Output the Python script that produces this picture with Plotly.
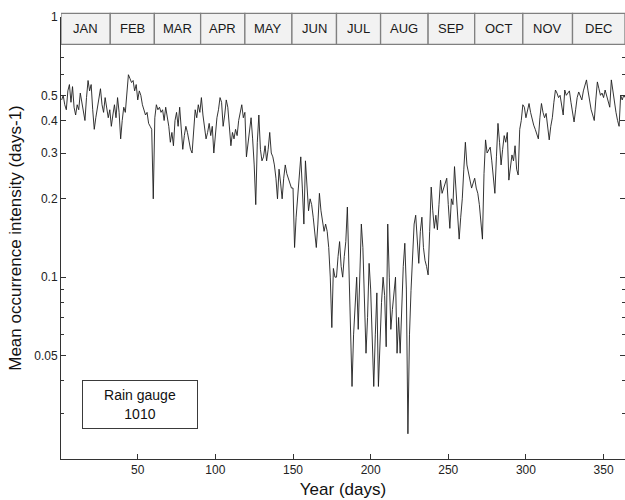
import plotly.graph_objects as go

# Mean daily occurrence intensity (days-1), day 1 .. 365
jan = [0.48, 0.50, 0.46, 0.44, 0.52, 0.55, 0.47, 0.54, 0.45, 0.42, 0.46, 0.44, 0.51, 0.47, 0.43, 0.40,
       0.49, 0.57, 0.52, 0.55, 0.44, 0.37, 0.41, 0.45, 0.48, 0.53, 0.46, 0.43, 0.49, 0.44, 0.41]
feb = [0.44, 0.38, 0.42, 0.46, 0.41, 0.49, 0.43, 0.34, 0.40, 0.45, 0.43, 0.52, 0.60, 0.58, 0.56, 0.57,
       0.52, 0.55, 0.48, 0.52, 0.50, 0.46, 0.44, 0.42, 0.43, 0.39, 0.38, 0.37, 0.20]
mar = [0.41, 0.46, 0.44, 0.45, 0.43, 0.44, 0.40, 0.45, 0.42, 0.38, 0.33, 0.36, 0.32, 0.40, 0.43, 0.38,
       0.45, 0.36, 0.31, 0.35, 0.38, 0.36, 0.33, 0.31, 0.30, 0.38, 0.44, 0.41, 0.46, 0.43]
apr = [0.49, 0.42, 0.38, 0.34, 0.36, 0.39, 0.35, 0.38, 0.30, 0.36, 0.41, 0.44, 0.49, 0.47, 0.38, 0.42,
       0.48, 0.45, 0.37, 0.32, 0.36, 0.34, 0.37, 0.35, 0.40, 0.43, 0.46, 0.41, 0.43, 0.29]
may = [0.33, 0.36, 0.41, 0.34, 0.27, 0.19, 0.33, 0.42, 0.31, 0.28, 0.29, 0.32, 0.28, 0.31, 0.36, 0.30,
       0.29, 0.27, 0.24, 0.20, 0.26, 0.23, 0.20, 0.24, 0.27, 0.25, 0.24, 0.23, 0.22, 0.22, 0.13]
jun = [0.17, 0.21, 0.25, 0.29, 0.22, 0.16, 0.28, 0.23, 0.18, 0.20, 0.19, 0.17, 0.15, 0.13, 0.16, 0.21,
       0.18, 0.16, 0.15, 0.16, 0.15, 0.13, 0.10, 0.064, 0.108, 0.10, 0.10, 0.12, 0.137, 0.11]
jul = [0.10, 0.12, 0.137, 0.186, 0.11, 0.064, 0.038, 0.06, 0.075, 0.10, 0.063, 0.11, 0.16, 0.13, 0.08,
       0.051, 0.07, 0.113, 0.09, 0.06, 0.038, 0.06, 0.087, 0.038, 0.06, 0.08, 0.10, 0.085, 0.054, 0.16, 0.10]
aug = [0.063, 0.075, 0.09, 0.10, 0.051, 0.07, 0.051, 0.08, 0.11, 0.135, 0.09, 0.025, 0.06, 0.089, 0.13,
       0.16, 0.173, 0.139, 0.113, 0.15, 0.17, 0.13, 0.116, 0.11, 0.102, 0.15, 0.222, 0.18, 0.154, 0.173, 0.152]
sep = [0.19, 0.236, 0.21, 0.22, 0.23, 0.24, 0.19, 0.154, 0.20, 0.19, 0.266, 0.22, 0.17, 0.14, 0.17, 0.20,
       0.26, 0.33, 0.27, 0.254, 0.24, 0.22, 0.23, 0.24, 0.22, 0.21, 0.19, 0.16, 0.14, 0.25]
oct_ = [0.337, 0.30, 0.31, 0.316, 0.28, 0.24, 0.21, 0.29, 0.39, 0.33, 0.27, 0.31, 0.35, 0.33, 0.36, 0.236,
        0.26, 0.295, 0.28, 0.32, 0.26, 0.247, 0.37, 0.40, 0.46, 0.45, 0.41, 0.44, 0.465, 0.43, 0.40]
nov = [0.384, 0.37, 0.35, 0.34, 0.41, 0.465, 0.43, 0.41, 0.426, 0.38, 0.337, 0.38, 0.41, 0.47, 0.524,
       0.51, 0.49, 0.50, 0.45, 0.42, 0.524, 0.50, 0.51, 0.52, 0.47, 0.43, 0.395, 0.44, 0.49, 0.515]
dec = [0.50, 0.48, 0.52, 0.55, 0.573, 0.52, 0.47, 0.44, 0.42, 0.40, 0.48, 0.563, 0.53, 0.50, 0.51, 0.49,
       0.524, 0.50, 0.47, 0.45, 0.573, 0.52, 0.46, 0.43, 0.40, 0.38, 0.50, 0.48, 0.50, 0.49, 0.50]

intensity = jan + feb + mar + apr + may + jun + jul + aug + sep + oct_ + nov + dec
days = list(range(1, len(intensity) + 1))

month_names = ["JAN", "FEB", "MAR", "APR", "MAY", "JUN", "JUL", "AUG", "SEP", "OCT", "NOV", "DEC"]
month_bounds = [0.58, 32.3, 60.7, 90.5, 119, 149.3, 178, 206.4, 237, 267, 298, 330, 363.8]

y_major = [0.05, 0.1, 0.2, 0.3, 0.4, 0.5, 1]
y_major_text = ["0.05", "0.1", "0.2", "0.3", "0.4", "0.5", "1"]
y_minor = [0.03, 0.04, 0.06, 0.07, 0.08, 0.09, 0.6, 0.7, 0.8, 0.9]
x_ticks = [50, 100, 150, 200, 250, 300, 350]

FONT = "Arial, Liberation Sans, sans-serif"

fig = go.Figure()
fig.add_trace(go.Scatter(x=days, y=intensity, mode="lines",
                         line=dict(color="#1e1e1e", width=0.9), showlegend=False))

# Month strip across the top of the plot
shapes = []
annotations = []
for i, name in enumerate(month_names):
    x0, x1 = month_bounds[i], month_bounds[i + 1]
    shapes.append(dict(type="rect", xref="x", yref="paper", x0=x0, x1=x1, y0=0.938, y1=1.008,
                       fillcolor="#f2f2f2", line=dict(color="#808080", width=1.3), layer="above"))
    annotations.append(dict(x=(x0 + x1) / 2, y=0.973, xref="x", yref="paper", text=name,
                            xanchor="center", yanchor="middle", showarrow=False,
                            font=dict(family=FONT, size=13, color="#1a1a1a")))

# Station label box
annotations.append(dict(x=0.1406, y=0.1233, xref="paper", yref="paper",
                        xanchor="center", yanchor="middle",
                        text="Rain gauge<br>1010", showarrow=False, align="center",
                        width=112, height=45, bordercolor="#3a3a3a", borderwidth=1,
                        bgcolor="white", font=dict(family=FONT, size=14, color="#111111")))

fig.update_layout(
    width=625, height=500,
    margin=dict(l=61, r=0, t=17, b=41),
    paper_bgcolor="white", plot_bgcolor="white",
    font=dict(family=FONT, size=12, color="#222222"),
    shapes=shapes, annotations=annotations,
)

fig.update_xaxes(
    range=[0.58, 363.8], tickvals=x_ticks, ticks="inside", ticklen=5, tickcolor="#333333",
    showline=True, linecolor="#333333", linewidth=1, showgrid=False, zeroline=False,
    tickfont=dict(family=FONT, size=12, color="#222222"),
    title=dict(text="Year (days)", font=dict(family=FONT, size=17, color="#111111"), standoff=6),
)
fig.update_yaxes(
    type="log", range=[-1.69897, 0], tickvals=y_major, ticktext=y_major_text,
    ticks="inside", ticklen=5, tickcolor="#333333",
    minor=dict(tickvals=y_minor, ticks="inside", ticklen=3, tickcolor="#333333"),
    showline=True, linecolor="#333333", linewidth=1, mirror="ticks", showgrid=False,
    tickfont=dict(family=FONT, size=12, color="#222222"),
    title=dict(text="Mean occurrence intensity (days-1)", font=dict(family=FONT, size=17, color="#111111"),
               standoff=8),
)

fig.write_html("out.html")
